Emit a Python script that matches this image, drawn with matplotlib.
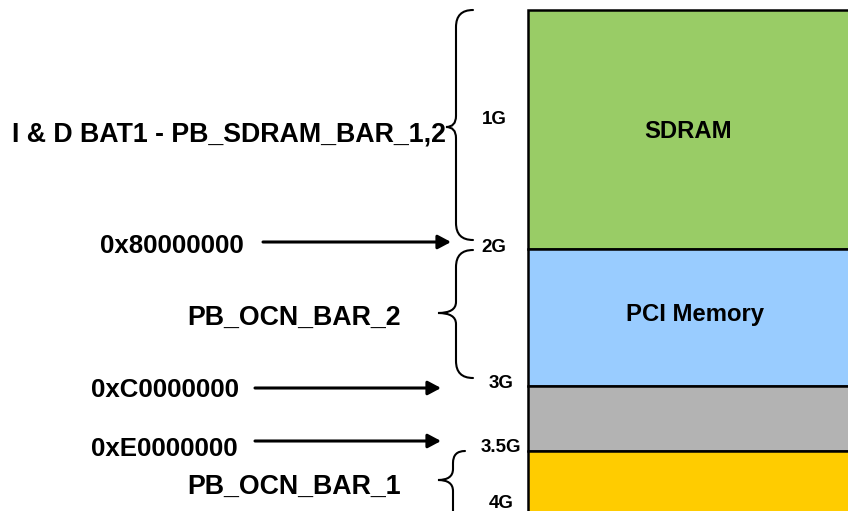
import matplotlib
matplotlib.use("Agg")
import matplotlib.pyplot as plt
from matplotlib.path import Path
from matplotlib.patches import PathPatch

plt.rcParams['font.family'] = ['Liberation Sans', 'DejaVu Sans']

# ---- data (diagram units = pixels of an 848x511 canvas, y downwards) ----
region_names = ["SDRAM", "PCI Memory", "", ""]
region_tops = [10, 249, 386, 451]
region_bottoms = [249, 386, 451, 540]
region_colors = ["#99CC66", "#99CCFF", "#B3B3B3", "#FFCC00"]
region_label_x = [688, 695, None, None]
region_label_y = [131, 314, None, None]

tick_labels = ["1G", "2G", "3G", "3.5G", "4G"]
tick_x = [494, 494, 501, 501, 501]
tick_y = [120, 247, 384, 448, 503]

addr_labels = ["0x80000000", "0xC0000000", "0xE0000000"]
addr_text_x = [100, 91, 91]
addr_baseline = [253, 397, 456]
arrow_start = [263, 255, 255]
arrow_end = [451, 441, 441]
arrow_y = [242, 388, 441]

bar_labels = ["I & D BAT1 - PB_SDRAM_BAR_1,2", "PB_OCN_BAR_2", "PB_OCN_BAR_1"]
bar_text_x = [12, 187, 187]
bar_baseline = [141, 325, 494]

# braces: top, bottom, spine x, tip x, cusp y, end x
brace_top = [10, 250, 451]
brace_bottom = [240, 378, 560]
brace_x = [456, 456, 453]
brace_tip = [446, 438, 438]
brace_cusp = [127, 313, 480]
brace_end = [473, 473, 465]

block_left = 528
block_width = 400

fig = plt.figure(figsize=(8.48, 5.11), dpi=100)
ax = fig.add_axes([0, 0, 1, 1])
ax.set_xlim(0, 848)
ax.set_ylim(511, 0)
ax.axis('off')

# memory blocks
heights = [b - t for t, b in zip(region_tops, region_bottoms)]
ax.bar([block_left] * len(heights), heights, bottom=region_tops, width=block_width,
       align='edge', color=region_colors, edgecolor='black', linewidth=1.8, zorder=2)

for name, lx, ly in zip(region_names, region_label_x, region_label_y):
    if name:
        ax.text(lx, ly, name, ha='center', va='center', fontsize=17.2,
                fontweight='bold', zorder=3)

# tick labels
for lab, x, y in zip(tick_labels, tick_x, tick_y):
    ax.text(x, y, lab, ha='center', va='center', fontsize=13.5, fontweight='bold')

# address labels + arrows
for lab, tx, tb, xs, xe, ay in zip(addr_labels, addr_text_x, addr_baseline,
                                   arrow_start, arrow_end, arrow_y):
    ax.text(tx, tb, lab, ha='left', va='baseline', fontsize=18.6, fontweight='bold')
    ax.annotate("", xy=(xe, ay), xytext=(xs, ay),
                arrowprops=dict(arrowstyle='-|>,head_length=0.6,head_width=0.32',
                                lw=2.2, color='black', mutation_scale=13,
                                shrinkA=0, shrinkB=0))

# bar labels
for lab, tx, tb in zip(bar_labels, bar_text_x, bar_baseline):
    ax.text(tx, tb, lab, ha='left', va='baseline', fontsize=19.3, fontweight='bold')

# braces
for top, bot, sx, tip, cy, ex in zip(brace_top, brace_bottom, brace_x,
                                      brace_tip, brace_cusp, brace_end):
    r = ex - sx
    h = 11
    verts = [(ex, top), (sx, top), (sx, top + r),
             (sx, cy - h),
             (sx, cy), (tip, cy),
             (sx, cy), (sx, cy + h),
             (sx, bot - r),
             (sx, bot), (ex, bot)]
    codes = [Path.MOVETO, Path.CURVE3, Path.CURVE3,
             Path.LINETO,
             Path.CURVE3, Path.CURVE3,
             Path.CURVE3, Path.CURVE3,
             Path.LINETO,
             Path.CURVE3, Path.CURVE3]
    ax.add_patch(PathPatch(Path(verts, codes), fill=False, lw=1.5,
                           edgecolor='black', capstyle='round'))

fig.savefig("out.png", dpi=100)
